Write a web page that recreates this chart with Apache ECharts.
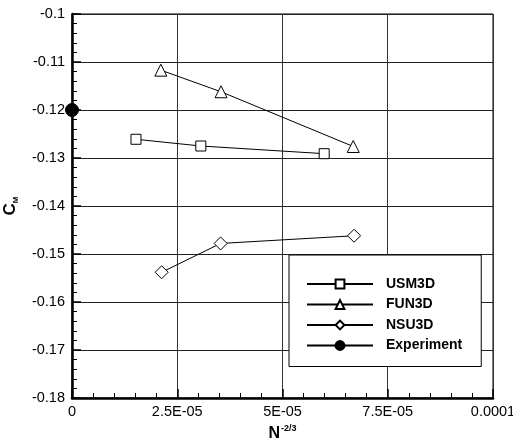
<!DOCTYPE html>
<html>
<head>
<meta charset="utf-8">
<script src="https://cdn.jsdelivr.net/npm/echarts@6/dist/echarts.min.js"></script>
<style>
  html, body { margin: 0; padding: 0; background: #fff; }
  #chart { width: 513px; height: 440px; }
</style>
</head>
<body>
<div id="chart"></div>
<script>
// Grid-convergence study of pitching moment: C_M against N^(-2/3)
const usm3dX = [1.52e-5, 3.06e-5, 5.99e-5];
const usm3dY = [-0.1261, -0.1275, -0.1291];

const fun3dX = [2.11e-5, 3.54e-5, 6.68e-5];
const fun3dY = [-0.1117, -0.1162, -0.1276];

const nsu3dX = [2.13e-5, 3.53e-5, 6.70e-5];
const nsu3dY = [-0.1538, -0.1478, -0.1462];

const experimentX = [0];
const experimentY = [-0.12];

const xTickValues = [0, 2.5e-5, 5e-5, 7.5e-5, 1e-4];
const xTickLabels = ['0', '2.5E-05', '5E-05', '7.5E-05', '0.0001'];
const yTickLabels = ['-0.18', '-0.17', '-0.16', '-0.15', '-0.14', '-0.13', '-0.12', '-0.11', '-0.1'];

const FONT = '"Liberation Sans", Arial, Helvetica, sans-serif';

function pairs(xs, ys) {
  return xs.map((x, i) => [x, ys[i]]);
}

function xLabel(v) {
  for (let i = 0; i < xTickValues.length; i++) {
    if (Math.abs(v - xTickValues[i]) < 1e-9) return xTickLabels[i];
  }
  return '';
}

function yLabel(v) {
  const idx = Math.round((v + 0.18) / 0.01);
  return yTickLabels[idx] !== undefined ? yTickLabels[idx] : '';
}

const lineSeries = (name, data, symbol, size, filled) => ({
  name: name,
  type: 'line',
  data: data,
  symbol: symbol,
  symbolSize: size,
  clip: false,
  lineStyle: { color: '#000', width: 1 },
  itemStyle: {
    color: filled ? '#000' : '#fff',
    borderColor: '#000',
    borderWidth: 1
  },
  emphasis: { disabled: true },
  z: 5
});

const chart = echarts.init(document.getElementById('chart'), null, { renderer: 'canvas' });

chart.setOption({
  animation: false,
  backgroundColor: '#fff',
  textStyle: { fontFamily: FONT },
  grid: {
    left: 72, right: 20, top: 14, bottom: 42,
    show: true, borderColor: '#000', borderWidth: 1,
    containLabel: false,
    outerBoundsMode: 'none'
  },
  legend: {
    orient: 'vertical',
    left: 289,
    top: 255,
    padding: [22, 19, 14, 17],
    itemGap: 6.5,
    itemWidth: 66,
    itemHeight: 11,
    backgroundColor: '#fff',
    borderColor: '#000',
    borderWidth: 1,
    textStyle: { fontFamily: FONT, fontWeight: 'bold', fontSize: 14, color: '#000', padding: [0, 0, 0, 8] },
    data: ['USM3D', 'FUN3D', 'NSU3D', 'Experiment']
  },
  xAxis: {
    type: 'value',
    min: 0,
    max: 1e-4,
    interval: 2.5e-5,
    name: '{b|N}{sup|-2/3}',
    nameLocation: 'middle',
    nameGap: 24,
    nameTextStyle: {
      fontSize: 16,
      fontWeight: 'bold',
      rich: {
        b: { fontFamily: FONT, fontWeight: 'bold', fontSize: 16, color: '#000', lineHeight: 18, verticalAlign: 'bottom' },
        sup: { fontFamily: FONT, fontWeight: 'bold', fontSize: 9, color: '#000', lineHeight: 18, verticalAlign: 'top', padding: [0, 0, 8, 1] }
      }
    },
    axisLine: { show: true, onZero: false, lineStyle: { color: '#000', width: 2.5 } },
    axisTick: { show: true, inside: true, length: 9, lineStyle: { color: '#000', width: 1.5 } },
    minorTick: { show: true, splitNumber: 5, length: 5, lineStyle: { color: '#000', width: 1 } },
    axisLabel: {
      margin: 6,
      fontSize: 14.5,
      color: '#000',
      fontFamily: FONT,
      formatter: xLabel,
      showMaxLabel: true,
      showMinLabel: true
    },
    splitLine: { show: true, lineStyle: { color: '#333', width: 1 } }
  },
  yAxis: {
    type: 'value',
    min: -0.18,
    max: -0.1,
    interval: 0.01,
    name: '{b|C}{sub|M}',
    nameLocation: 'middle',
    nameGap: 52,
    nameRotate: 90,
    nameTextStyle: {
      fontSize: 17,
      fontWeight: 'bold',
      rich: {
        b: { fontFamily: FONT, fontWeight: 'bold', fontSize: 17, color: '#000', lineHeight: 18, verticalAlign: 'top' },
        sub: { fontFamily: FONT, fontWeight: 'bold', fontSize: 8, color: '#000', lineHeight: 18, verticalAlign: 'bottom', padding: [4, 0, 0, 0] }
      }
    },
    axisLine: { show: true, onZero: false, lineStyle: { color: '#000', width: 2.5 } },
    axisTick: { show: true, inside: true, length: 9, lineStyle: { color: '#000', width: 1.5 } },
    minorTick: { show: true, splitNumber: 5, length: 5, lineStyle: { color: '#000', width: 1 } },
    axisLabel: {
      margin: 7,
      fontSize: 14.5,
      color: '#000',
      fontFamily: FONT,
      formatter: yLabel
    },
    splitLine: { show: true, lineStyle: { color: '#222', width: 1 } }
  },
  series: [
    lineSeries('USM3D', pairs(usm3dX, usm3dY), 'rect', 10, false),
    lineSeries('FUN3D', pairs(fun3dX, fun3dY), 'triangle', 12, false),
    lineSeries('NSU3D', pairs(nsu3dX, nsu3dY), 'diamond', 13, false),
    lineSeries('Experiment', pairs(experimentX, experimentY), 'circle', 13, true)
  ]
});
</script>
</body>
</html>
